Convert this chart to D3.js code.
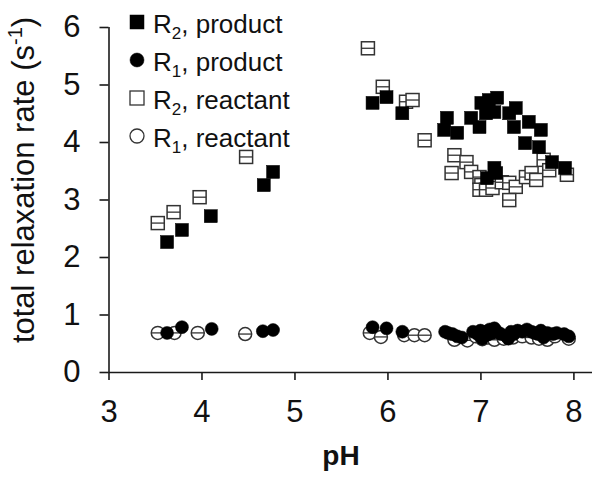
<!DOCTYPE html>
<html><head><meta charset="utf-8">
<script src="https://cdn.jsdelivr.net/npm/d3@7"></script>
<style>html,body{margin:0;padding:0;background:#fff}svg{display:block;font-family:Arial,"Liberation Sans",sans-serif}</style>
</head><body><svg id="c" width="602" height="477"></svg>
<script>
// R2, product (filled squares): [pH, rate]
const r2ProductPH   = [3.63,3.79,4.10,4.67,4.77,5.84,5.99,6.16,6.64,6.61,6.75,6.90,7.01,7.09,7.18,6.99,7.06,7.15,7.31,7.38,7.36,7.52,7.65,7.63,7.48,7.15,7.07,7.17,7.77,7.91];
const r2ProductRate = [2.26,2.47,2.71,3.25,3.48,4.68,4.78,4.50,4.42,4.21,4.16,4.42,4.68,4.73,4.77,4.26,4.50,4.52,4.50,4.59,4.26,4.35,4.21,3.91,3.98,3.55,3.37,3.46,3.65,3.55];
// R1, product (filled circles)
const r1ProductPH   = [3.63,3.79,4.11,4.66,4.77,5.84,5.99,6.16,6.62,6.65,6.70,6.75,6.80,6.92,6.97,7.00,7.02,7.05,7.08,7.10,7.13,7.15,7.18,7.22,7.28,7.30,7.33,7.36,7.40,7.45,7.50,7.55,7.58,7.62,7.65,7.68,7.72,7.78,7.82,7.90,7.95];
const r1ProductRate = [0.68,0.78,0.75,0.71,0.73,0.78,0.76,0.70,0.70,0.68,0.66,0.62,0.60,0.70,0.66,0.72,0.58,0.70,0.65,0.74,0.68,0.76,0.70,0.66,0.62,0.58,0.70,0.66,0.72,0.70,0.74,0.70,0.68,0.66,0.72,0.60,0.68,0.66,0.68,0.66,0.62];
// R2, reactant (open squares)
const r2ReactantPH   = [3.53,3.70,3.98,4.48,5.79,5.95,6.20,6.27,6.40,6.72,6.85,6.69,6.90,6.99,7.01,6.99,7.06,7.13,7.23,7.31,7.38,7.31,7.49,7.55,7.60,7.68,7.74,7.93];
const r2ReactantRate = [2.59,2.78,3.04,3.74,5.63,4.96,4.70,4.73,4.03,3.77,3.65,3.46,3.48,3.39,3.25,3.17,3.17,3.20,3.30,3.29,3.22,2.99,3.39,3.46,3.34,3.69,3.51,3.43];
// R1, reactant (open circles)
const r1ReactantPH   = [3.53,3.71,3.96,4.47,5.81,5.93,6.18,6.29,6.40,6.72,6.86,6.95,7.02,7.08,7.15,7.25,7.35,7.45,7.55,7.63,7.72,7.80,7.95];
const r1ReactantRate = [0.68,0.68,0.68,0.66,0.68,0.61,0.64,0.64,0.64,0.56,0.55,0.62,0.57,0.60,0.56,0.58,0.60,0.62,0.60,0.58,0.56,0.62,0.58];

const xTicks = [3,4,5,6,7,8];
const yTicks = [0,1,2,3,4,5,6];
const legendItems = [
  {name:"R", sub:"2", rest:", product", shape:"square", filled:true},
  {name:"R", sub:"1", rest:", product", shape:"circle", filled:true},
  {name:"R", sub:"2", rest:", reactant", shape:"square", filled:false},
  {name:"R", sub:"1", rest:", reactant", shape:"circle", filled:false}
];

const svg = d3.select("#c");
const x = d3.scaleLinear().domain([3, 8.2]).range([108.5, 592]);
const y = d3.scaleLinear().domain([0, 6]).range([372, 27]);
const axisColor = "#1a1a1a";

// axes
const xa = svg.append("g").attr("transform","translate(0,"+y(0)+")")
  .call(d3.axisBottom(x).tickValues(xTicks).tickSize(8).tickPadding(20).tickFormat(d3.format("d")));
const ya = svg.append("g").attr("transform","translate("+x(3)+",0)")
  .call(d3.axisLeft(y).tickValues(yTicks).tickSize(9).tickPadding(19).tickFormat(d3.format("d")));
[xa, ya].forEach(a => {
  a.select(".domain").attr("stroke", axisColor).attr("stroke-width", 1.6);
  a.selectAll(".tick line").attr("stroke", axisColor).attr("stroke-width", 1.6);
  a.selectAll(".tick text").attr("font-size", 31).attr("fill", "#111").attr("font-family","Arial, 'Liberation Sans', sans-serif");
});
xa.select(".domain").attr("d", "M" + x(3) + ",0.5H" + x(8.2));
ya.select(".domain").attr("d", "M0.5," + y(6) + "V" + y(0));
xa.selectAll(".tick text").attr("dy", "0.71em");

// axis titles
svg.append("text").attr("x", 341).attr("y", 465).attr("text-anchor","middle")
  .attr("font-size", 28).attr("font-weight","bold").attr("fill","#111").text("pH");
const yt = svg.append("text").attr("transform","translate(34,180) rotate(-90)").attr("text-anchor","middle")
  .attr("font-size", 31).attr("fill","#111");
yt.append("tspan").text("total relaxation rate (s");
yt.append("tspan").attr("font-size", 20).attr("dy", -12).text("-1");
yt.append("tspan").attr("dy", 12).text(")");

const S = 13; // square side
const R = 6.5; // circle radius
const openStroke = "#333";

function drawSquares(px, py, filled) {
  const g = svg.append("g");
  px.forEach((v, i) => {
    const cx = x(v), cy = y(py[i]);
    g.append("rect").attr("x", cx - S/2).attr("y", cy - S/2).attr("width", S).attr("height", S)
      .attr("fill", filled ? "#000" : "#fff").attr("stroke", filled ? "#000" : openStroke).attr("stroke-width", filled ? 0.5 : 1.5);
    if (!filled) g.append("line").attr("x1", cx - S/2).attr("x2", cx + S/2).attr("y1", cy).attr("y2", cy)
      .attr("stroke", openStroke).attr("stroke-width", 1.3);
  });
}
function drawCircles(px, py, filled) {
  const g = svg.append("g");
  px.forEach((v, i) => {
    const cx = x(v), cy = y(py[i]);
    g.append("circle").attr("cx", cx).attr("cy", cy).attr("r", R)
      .attr("fill", filled ? "#000" : "#fff").attr("stroke", filled ? "#000" : openStroke).attr("stroke-width", filled ? 0.5 : 1.5);
    if (!filled) g.append("line").attr("x1", cx - R).attr("x2", cx + R).attr("y1", cy).attr("y2", cy)
      .attr("stroke", openStroke).attr("stroke-width", 1.3);
  });
}
drawCircles(r1ReactantPH, r1ReactantRate, false);
drawSquares(r2ReactantPH, r2ReactantRate, false);
drawCircles(r1ProductPH, r1ProductRate, true);
drawSquares(r2ProductPH, r2ProductRate, true);

// legend
const lg = svg.append("g");
legendItems.forEach((d, i) => {
  const base = 33 + i * 38;
  const my = base - 11;
  if (d.shape === "square") {
    lg.append("rect").attr("x", 130).attr("y", my - 7).attr("width", 14).attr("height", 14)
      .attr("fill", d.filled ? "#000" : "#fff").attr("stroke", d.filled ? "#000" : openStroke).attr("stroke-width", d.filled ? 0.5 : 1.3);
  } else {
    lg.append("circle").attr("cx", 137).attr("cy", my).attr("r", 7)
      .attr("fill", d.filled ? "#000" : "#fff").attr("stroke", d.filled ? "#000" : openStroke).attr("stroke-width", d.filled ? 0.5 : 1.3);
  }
  const t = lg.append("text").attr("x", 153).attr("y", base).attr("font-size", 26).attr("fill", "#111");
  t.append("tspan").text(d.name);
  t.append("tspan").attr("font-size", 17).attr("dy", 6).text(d.sub);
  t.append("tspan").attr("dy", -6).text(d.rest);
});
</script></body></html>
